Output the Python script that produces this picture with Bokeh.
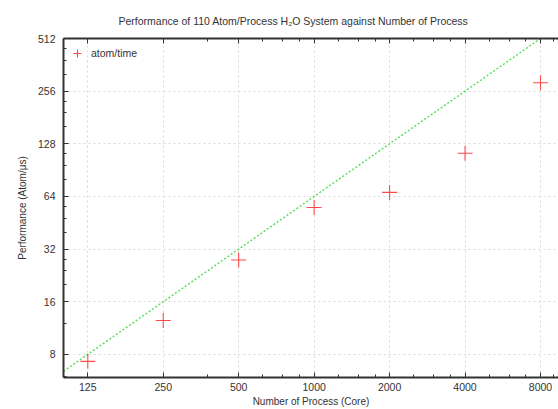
from bokeh.plotting import figure
from bokeh.models import (FixedTicker, LogAxis, Legend, LegendItem, Title,
                          CustomJSTickFormatter, ColumnDataSource, Range1d)
from bokeh.embed import file_html
from bokeh.resources import INLINE

# ---- data ----
processes = [125, 250, 500, 1000, 2000, 4000, 8000]
performance = [7.3, 12.5, 27.7, 55.3, 67.5, 113, 286]
ideal_x = [100, 125, 250, 500, 1000, 2000, 4000, 8000]
ideal_y = [6.4, 8, 16, 32, 64, 128, 256, 512]
x_ticks = [125, 250, 500, 1000, 2000, 4000, 8000]
x_minor = [375, 625, 750, 875, 1250, 1500, 1750, 2500, 3000, 3500,
           5000, 6000, 7000, 9000]
y_ticks = [8, 16, 32, 64, 128, 256, 512]
y_minor = [6, 12, 20, 24, 28, 40, 48, 56, 80, 96, 112, 160, 192, 224,
           320, 384, 448]

FONT = "Liberation Sans"
TXT = "#333333"

p = figure(width=558, height=409, x_axis_type="log", y_axis_type="log",
           x_range=Range1d(100, 9440), y_range=Range1d(5.9, 512),
           output_backend="svg", toolbar_location=None,
           min_border_left=63, min_border_right=0, min_border_top=38,
           min_border_bottom=32, title=None)
p.outline_line_color = None
p.background_fill_color = "white"
p.border_fill_color = "white"

xt = FixedTicker(ticks=x_ticks, minor_ticks=x_minor)
yt = FixedTicker(ticks=y_ticks, minor_ticks=y_minor)
fmt = CustomJSTickFormatter(code="return String(tick)")
blank = CustomJSTickFormatter(code="return ''")

def style_axis(ax, ticker, formatter):
    ax.ticker = ticker
    ax.formatter = formatter
    ax.axis_line_color = "#333333"
    ax.axis_line_width = 2
    ax.major_tick_in = 5
    ax.major_tick_out = 0
    ax.minor_tick_in = 3
    ax.minor_tick_out = 0
    ax.major_tick_line_color = "#333333"
    ax.minor_tick_line_color = "#333333"
    ax.major_label_text_font = FONT
    ax.major_label_text_font_size = "10.5px"
    ax.major_label_text_color = TXT
    ax.axis_label_text_font = FONT
    ax.axis_label_text_font_size = "10px"
    ax.axis_label_text_font_style = "normal"
    ax.axis_label_text_color = TXT

style_axis(p.xaxis[0], xt, fmt)
style_axis(p.yaxis[0], yt, fmt)
p.xaxis[0].axis_label = "Number of Process (Core)"
p.xaxis[0].major_label_standoff = 5
p.xaxis[0].axis_label_standoff = 2
p.yaxis[0].axis_label = "Performance (Atom/\u03bcs)"
p.yaxis[0].major_label_standoff = 8
p.yaxis[0].axis_label_standoff = 7

top = LogAxis()
style_axis(top, xt, blank)
top.major_label_standoff = 0
p.add_layout(top, "above")

for g in (p.xgrid[0], p.ygrid[0]):
    g.grid_line_color = "#d8d8d8"
    g.grid_line_dash = "2 3"
    g.grid_line_width = 1
p.xgrid[0].ticker = xt
p.ygrid[0].ticker = yt

title = Title(text="Performance of 110 Atom/Process H\u2082O System against Number of Process",
              text_font=FONT, text_font_size="10.5px", text_font_style="normal",
              text_color=TXT, align="left", offset=55, standoff=23)
p.add_layout(title, "above")

ideal_src = ColumnDataSource(dict(x=ideal_x, y=ideal_y))
p.line("x", "y", source=ideal_src, line_color="#55dd55", line_width=1.4,
       line_dash="2 2")

src = ColumnDataSource(dict(x=processes, y=performance))
r = p.scatter("x", "y", source=src, marker="cross", size=15,
              line_color="#ff4a4a", line_width=1.1)

legend = Legend(items=[LegendItem(label="atom/time", renderers=[r])],
                location=(4, 314), padding=0, margin=0, spacing=0,
                border_line_color=None, background_fill_alpha=0,
                glyph_width=20, glyph_height=20, label_standoff=4,
                label_text_font=FONT, label_text_font_size="10.5px",
                label_text_color=TXT)
p.add_layout(legend, "center")

open("out.html", "w").write(file_html(p, INLINE))
